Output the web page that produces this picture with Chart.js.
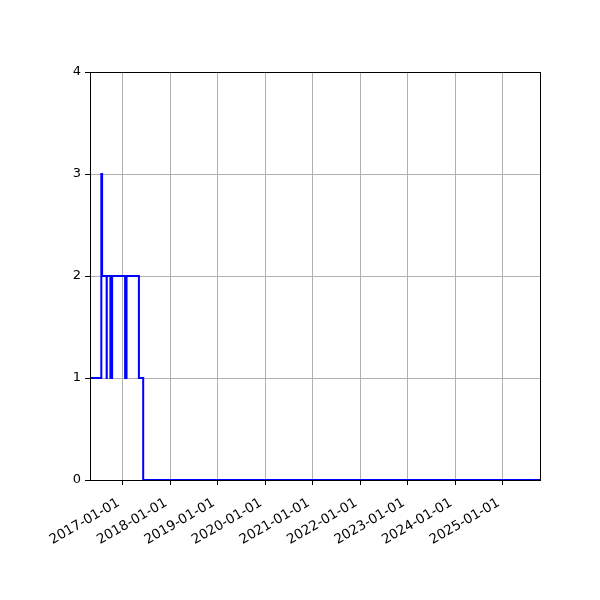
<!DOCTYPE html>
<html>
<head>
<meta charset="utf-8">
<script src="https://cdn.jsdelivr.net/npm/chart.js@4/dist/chart.umd.min.js"></script>
<style>
  html, body { margin: 0; padding: 0; background: #fff; }
  #wrap { width: 600px; height: 600px; }
</style>
</head>
<body>
<div id="wrap"><canvas id="stepChart" width="600" height="600"></canvas></div>
<script>
// step series (value holds until the next date)
const stepDates = ['2016-04-25', '2016-07-21', '2016-07-27', '2016-08-31', '2016-09-01',
  '2016-09-29', '2016-09-30', '2016-10-11', '2016-10-12', '2017-01-20', '2017-01-21',
  '2017-01-30', '2017-01-31', '2017-05-06', '2017-06-08', '2025-10-15'];
const stepValues = [1, 3, 2, 1, 2, 1, 2, 1, 2, 1, 2, 1, 2, 1, 0, 0];

const tickYears = [2017, 2018, 2019, 2020, 2021, 2022, 2023, 2024, 2025];
const yTicks = [0, 1, 2, 3, 4];

const toMs = s => Date.parse(s + 'T00:00:00Z');
const points = stepDates.map((d, i) => ({ x: toMs(d), y: stepValues[i] }));

function fmtDate(ms) {
  const d = new Date(ms);
  const mm = String(d.getUTCMonth() + 1).padStart(2, '0');
  const dd = String(d.getUTCDate()).padStart(2, '0');
  return d.getUTCFullYear() + '-' + mm + '-' + dd;
}

// matplotlib-style frame on all four sides
const frame = {
  id: 'frame',
  afterDatasetsDraw(chart) {
    const { ctx, chartArea: a } = chart;
    ctx.save();
    ctx.strokeStyle = '#000';
    ctx.lineWidth = 1;
    ctx.strokeRect(Math.round(a.left) + 0.5, Math.round(a.top) + 0.5,
      Math.round(a.right - a.left), Math.round(a.bottom - a.top));
    ctx.restore();
  }
};

const font = { family: 'DejaVu Sans', size: 13 };

const ctx = document.getElementById('stepChart').getContext('2d');
new Chart(ctx, {
  type: 'line',
  data: {
    datasets: [{
      data: points,
      stepped: 'before',
      borderColor: '#0000ff',
      borderWidth: 2,
      pointRadius: 0,
      fill: false,
    }],
  },
  options: {
    responsive: false,
    animation: false,
    layout: { padding: { top: 72, right: 60, left: 0, bottom: 0 } },
    plugins: { legend: { display: false }, tooltip: { enabled: false } },
    scales: {
      x: {
        type: 'linear',
        min: toMs(stepDates[0]),
        max: toMs(stepDates[stepDates.length - 1]),
        afterBuildTicks: scale => {
          scale.ticks = tickYears.map(y => ({ value: Date.UTC(y, 0, 1) }));
        },
        afterFit: scale => { scale.height = 120; },
        ticks: {
          callback: v => fmtDate(v),
          color: '#000',
          font: { family: 'DejaVu Sans', size: 13.5 },
          maxRotation: 30,
          minRotation: 30,
          autoSkip: false,
          padding: 10,
          labelOffset: -4,
        },
        grid: { color: '#b0b0b0', lineWidth: 1, tickColor: '#000', tickLength: 5 },
        border: { display: false },
      },
      y: {
        min: 0,
        max: 4,
        afterBuildTicks: scale => {
          scale.ticks = yTicks.map(v => ({ value: v }));
        },
        afterFit: scale => { scale.width = 90; },
        ticks: { color: '#000', font: font, padding: 4 },
        grid: { color: '#b0b0b0', lineWidth: 1, tickColor: '#000', tickLength: 5 },
        border: { display: false },
      },
    },
  },
  plugins: [frame],
});
</script>
</body>
</html>
